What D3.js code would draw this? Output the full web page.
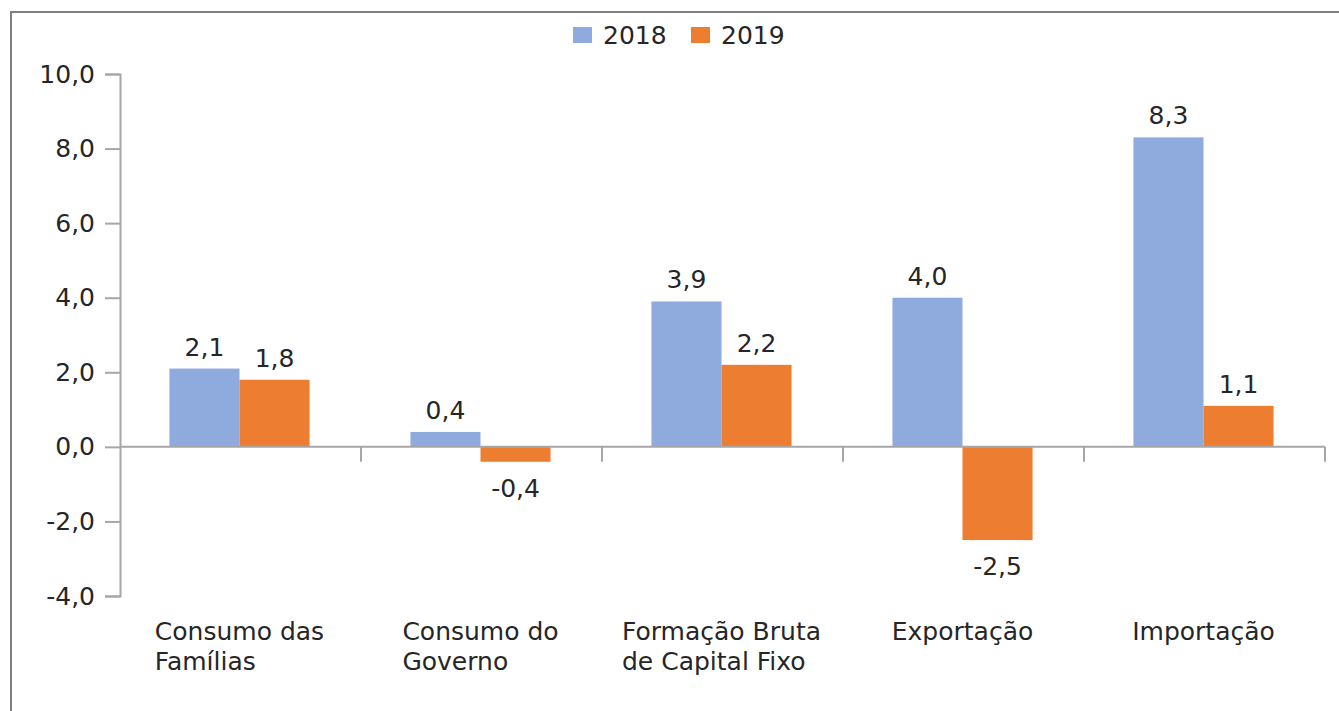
<!DOCTYPE html>
<html lang="pt">
  <head>
    <meta charset="UTF-8" />
    <title>Componentes da demanda 2018-2019</title>
    <style>
      body {
        margin: 0;
        background: #ffffff;
      }
      text {
        font-family: "DejaVu Sans", Verdana, sans-serif;
        fill: #262626;
      }
    </style>
  </head>
  <body>
    <script src="https://d3js.org/d3.v7.min.js"></script>
    <svg id="chart" width="1339" height="711"></svg>
    <script>
      // data
      var categories = [
        ["Consumo das", "Famílias"],
        ["Consumo do", "Governo"],
        ["Formação Bruta", "de Capital Fixo"],
        ["Exportação"],
        ["Importação"],
      ];
      var series = ["2018", "2019"];
      var values2018 = [2.1, 0.4, 3.9, 4.0, 8.3];
      var values2019 = [1.8, -0.4, 2.2, -2.5, 1.1];
      var yTicks = [-4, -2, 0, 2, 4, 6, 8, 10];

      var colors = ["#8faadc", "#ed7d31"];
      var fontSize = 25;
      var svg = d3.select("#chart");

      // frame round the chart
      svg
        .append("rect")
        .attr("x", 11)
        .attr("y", 12)
        .attr("width", 1400)
        .attr("height", 800)
        .attr("fill", "none")
        .attr("stroke", "#7f7f7f")
        .attr("stroke-width", 2);

      var left = 120,
        right = 1325;
      var y = d3.scaleLinear().domain([-4, 10]).range([596, 74]);

      var keys = categories.map(function (d, i) {
        return i;
      });
      var x = d3.scaleBand().domain(keys).range([left, right]);
      var inner = d3
        .scaleBand()
        .domain(series)
        .range([-1, x.bandwidth() - 1])
        .paddingOuter(0.72);

      var rows = keys.map(function (i) {
        return { i: i, vals: [values2018[i], values2019[i]] };
      });

      var fmt = function (v) {
        return d3.format(".1f")(v).replace(".", ",").replace("−", "-");
      };

      // y axis
      var yAxis = svg
        .append("g")
        .attr("transform", "translate(" + left + ",0)")
        .call(
          d3
            .axisLeft(y)
            .tickValues(yTicks)
            .tickSize(15)
            .tickPadding(10)
            .tickFormat(fmt)
        );
      yAxis.select(".domain").attr("stroke", "#a6a6a6").attr("stroke-width", 2);
      yAxis.selectAll(".tick line").attr("stroke", "#a6a6a6").attr("stroke-width", 2);
      yAxis
        .selectAll(".tick text")
        .attr("font-size", fontSize)
        .attr("fill", "#262626");

      // bars
      var groups = svg
        .selectAll(".grp")
        .data(rows)
        .enter()
        .append("g")
        .attr("transform", function (d) {
          return "translate(" + x(d.i) + ",0)";
        });

      groups
        .selectAll("rect")
        .data(function (d) {
          return d.vals.map(function (v, k) {
            return { s: series[k], v: v, k: k };
          });
        })
        .enter()
        .append("rect")
        .attr("x", function (d) {
          return inner(d.s);
        })
        .attr("width", inner.bandwidth())
        .attr("y", function (d) {
          return y(Math.max(0, d.v));
        })
        .attr("height", function (d) {
          return Math.abs(y(d.v) - y(0));
        })
        .attr("fill", function (d) {
          return colors[d.k];
        });

      groups
        .selectAll(".lbl")
        .data(function (d) {
          return d.vals.map(function (v, k) {
            return { s: series[k], v: v };
          });
        })
        .enter()
        .append("text")
        .attr("text-anchor", "middle")
        .attr("font-size", fontSize)
        .attr("x", function (d) {
          return inner(d.s) + inner.bandwidth() / 2;
        })
        .attr("y", function (d) {
          return d.v >= 0 ? y(d.v) - 13 : y(d.v) + 35;
        })
        .text(function (d) {
          return fmt(d.v);
        });

      // x axis at zero
      var xAxis = svg
        .append("g")
        .attr("transform", "translate(0," + y(0) + ")");
      xAxis
        .append("line")
        .attr("x1", left)
        .attr("x2", right)
        .attr("stroke", "#a6a6a6")
        .attr("stroke-width", 2);
      xAxis
        .selectAll(".xt")
        .data(keys)
        .enter()
        .append("line")
        .attr("x1", function (d) {
          return x(d) + x.bandwidth();
        })
        .attr("x2", function (d) {
          return x(d) + x.bandwidth();
        })
        .attr("y1", 0)
        .attr("y2", 15)
        .attr("stroke", "#a6a6a6")
        .attr("stroke-width", 2);

      // category labels: lines left aligned, block centred under the group
      keys.forEach(function (i) {
        var t = svg
          .append("text")
          .attr("font-size", fontSize)
          .attr("y", 640);
        categories[i].forEach(function (line, j) {
          t.append("tspan")
            .attr("dy", j === 0 ? 0 : 30)
            .attr("x", 0)
            .text(line);
        });
        var w = 0;
        t.selectAll("tspan").each(function () {
          w = Math.max(w, this.getComputedTextLength());
        });
        var x0 = x(i) + x.bandwidth() / 2 - w / 2 - 1;
        t.selectAll("tspan").attr("x", x0);
      });

      // legend
      var legend = svg.append("g").attr("transform", "translate(573,27)");
      series.forEach(function (s, k) {
        var g = legend.append("g").attr("transform", "translate(" + k * 118 + ",0)");
        g.append("rect")
          .attr("width", 19)
          .attr("height", 16)
          .attr("fill", colors[k]);
        g.append("text")
          .attr("x", 30)
          .attr("y", 17)
          .attr("font-size", fontSize)
          .text(s);
      });
    </script>
  </body>
</html>
